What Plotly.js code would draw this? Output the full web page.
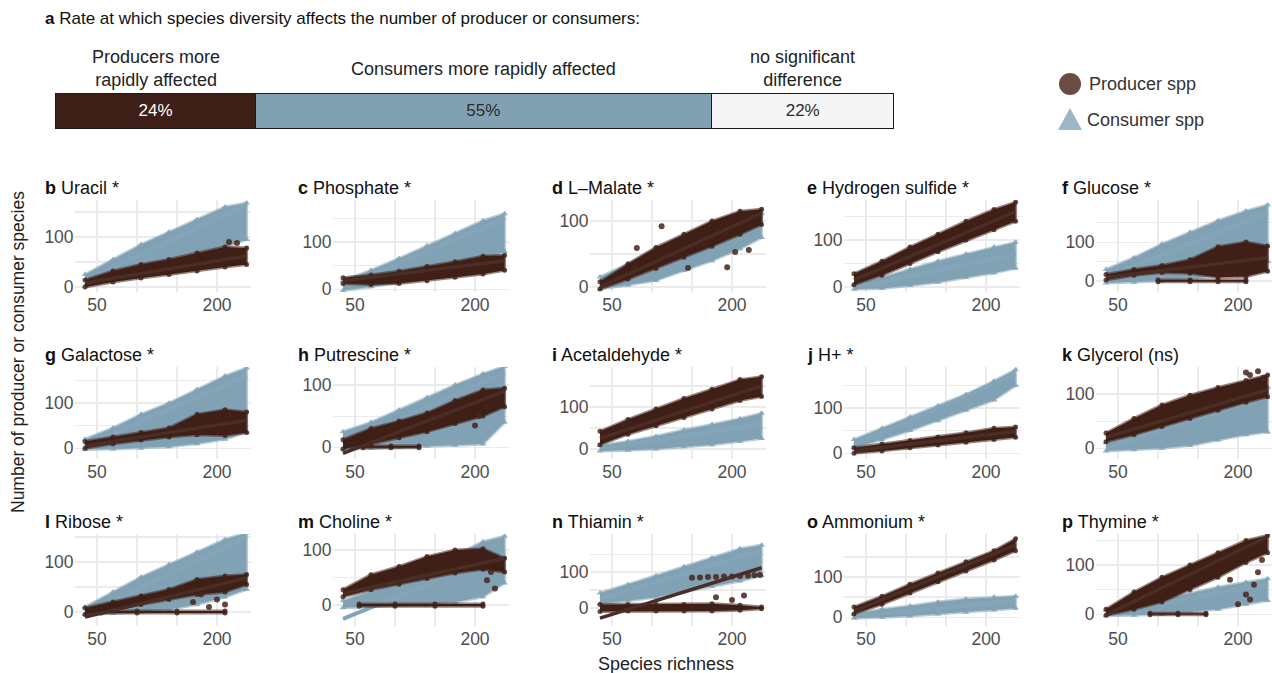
<!DOCTYPE html>
<html><head><meta charset="utf-8">
<script src="https://cdn.plot.ly/plotly-3.0.1.min.js"></script>
<style>html,body{margin:0;padding:0;background:#fff}#chart{width:1272px;height:673px}</style>
</head><body><div id="chart"></div>
<script>
// ---------------- DATA ----------------
const barCats = ['Producers more<br>rapidly affected', 'Consumers more rapidly affected', 'no significant<br>difference'];
const barPct = [24, 55, 22];

const panelLetter = ['b','c','d','e','f','g','h','i','j','k','l','m','n','o','p'];
const panelName = ['Uracil *','Phosphate *','L\u2013Malate *','Hydrogen sulfide *','Glucose *',
  'Galactose *','Putrescine *','Acetaldehyde *','H+ *','Glycerol (ns)',
  'Ribose *','Choline *','Thiamin *','Ammonium *','Thymine *'];

// species richness positions where the point clouds were read
const knotX = [35, 70, 105, 140, 175, 210, 237];

// consumer species cloud: lower / upper edge at knotX
const consLo = [
  [2, 15, 35, 55, 70, 80, 95], [-3, 5, 15, 30, 45, 60, 80], [-3, 3, 10, 25, 40, 58, 75],
  [-5, -3, 3, 10, 20, 30, 40], [-5, -3, 0, 5, 15, 30, 50],
  [-3, -2, 0, 3, 10, 20, 35], [-3, -2, 0, 2, 3, 5, 40], [-5, -3, 0, 5, 10, 18, 25],
  [12, 30, 50, 72, 95, 118, 150], [-5, -3, 0, 5, 15, 25, 30],
  [-5, -3, 0, 5, 15, 30, 45], [-5, -3, 0, 0, 5, 15, 40], [12, 20, 30, 45, 60, 75, 90],
  [-3, 0, 3, 8, 12, 18, 22], [-3, -2, 0, 5, 10, 20, 28]];
const consHi = [
  [25, 55, 85, 110, 135, 160, 168], [18, 40, 65, 92, 118, 145, 160], [15, 35, 58, 75, 92, 105, 112],
  [5, 20, 38, 55, 70, 85, 95], [30, 60, 95, 125, 155, 180, 195],
  [20, 45, 75, 100, 130, 160, 178], [25, 40, 60, 80, 100, 118, 130], [8, 18, 30, 45, 58, 72, 85],
  [30, 55, 80, 105, 130, 160, 185], [10, 30, 50, 70, 90, 105, 112],
  [10, 40, 70, 95, 120, 145, 158], [8, 25, 45, 65, 90, 115, 125], [42, 65, 90, 115, 140, 165, 175],
  [8, 20, 28, 38, 45, 50, 52], [8, 18, 30, 42, 55, 65, 72]];

// producer species cloud: lower / upper edge at knotX
const prodLo = [
  [0, 10, 18, 25, 32, 40, 45], [12, 10, 12, 18, 25, 32, 40], [-3, 12, 28, 45, 62, 80, 95],
  [5, 25, 50, 75, 100, 122, 140], [3, 15, 22, 20, 10, 12, 25],
  [0, 10, 18, 25, 30, 28, 35], [-3, 5, 15, 25, 38, 50, 65], [10, 35, 55, 75, 95, 115, 125],
  [0, 5, 12, 18, 24, 30, 35], [12, 25, 40, 55, 70, 85, 95],
  [-5, 5, 15, 25, 35, 40, 55], [15, 28, 38, 48, 58, 65, 60], [-10, -8, -8, -8, -8, -6, -2],
  [8, 32, 60, 88, 115, 142, 165], [-2, 10, 25, 50, 75, 105, 125]];
const prodHi = [
  [14, 32, 45, 55, 68, 80, 78], [24, 30, 38, 48, 58, 70, 72], [8, 35, 60, 80, 100, 115, 118],
  [28, 55, 85, 112, 140, 165, 180], [17, 30, 40, 55, 88, 100, 90],
  [15, 25, 35, 45, 75, 85, 80], [12, 30, 42, 55, 75, 92, 95], [42, 70, 95, 120, 142, 165, 172],
  [12, 20, 28, 36, 45, 55, 58], [28, 55, 80, 98, 112, 125, 135],
  [8, 20, 32, 45, 65, 72, 75], [28, 55, 70, 88, 100, 102, 85], [10, 10, 10, 10, 12, 8, 3],
  [25, 52, 82, 110, 138, 165, 195], [10, 45, 75, 100, 125, 150, 160]];

// secondary producer groups (rows of points at zero etc.): panel index, x, lower, upper
const prodExtraPanel = [4, 6, 10, 11, 14];
const prodExtraX  = [[100, 140, 175, 210], [60, 95, 130], [55, 100, 150, 210], [55, 100, 150, 210], [90, 125, 160]];
const prodExtraLo = [[-2, -2, -2, -2], [-1, -1, -1], [-2, -2, -2, -2], [-2, -2, -2, -2], [-1, -1, -1]];
const prodExtraHi = [[3, 3, 3, 3], [2, 2, 2], [2, 2, 2, 2], [2, 2, 2, 2], [2, 2, 2]];

// scattered producer points (incl. the sparse upper row in Thiamin)
const prodOutX = [[215, 225], [], [79, 145, 194, 204, 221, 112, 81], [], [], [], [200, 205, 215], [], [], [210, 215, 225, 232],
  [170, 180, 190, 200, 210], [215, 220, 225], [150, 160, 170, 180, 190, 200, 210, 220, 228, 235, 180, 200, 215],
  [], [200, 210, 220, 225, 230, 190, 215]];
const prodOutY = [[90, 88], [], [29, 29, 30, 53, 56, 92, 59], [], [], [], [35, 50, 65], [], [], [140, 135, 142, 130],
  [20, 35, 10, 25, 15], [45, 60, 30], [84, 85, 86, 86, 88, 88, 89, 90, 91, 92, 30, 22, 35],
  [], [20, 40, 60, 85, 110, 70, 30]];

// fitted lines: value at species richness 35 and 237
const lineX = [35, 237];
const prodLine = [[8, 62], [18, 60], [0, 112], [15, 160], [10, 60], [5, 62], [-10, 90], [25, 150], [5, 48], [20, 108],
  [-10, 68], [21, 85], [-28, 112], [15, 180], [-2, 158]];
const consLine = [[12, 165], [5, 150], [3, 100], [-2, 70], [10, 175], [5, 160], [5, 120], [0, 60], [18, 175], [0, 95],
  [-5, 150], [-25, 95], [25, 160], [2, 40], [0, 62]];

// y axis extents per panel (free scales)
const yRange = [[-10, 174], [-6, 189], [-7.6, 132], [-10.6, 185], [-28, 208], [-24, 180], [-19, 129], [-24, 195], [-13, 191], [-20, 150],
  [-28, 156], [-38, 129], [-50, 206], [-22, 207], [-24, 163]];

// ---------------- STYLE / LAYOUT ----------------
const W = 1272, H = 673;
const FONT = '"Liberation Sans", Arial, Helvetica, sans-serif';
const PROD = '#3f1f16', CONS = '#81a2b5';
const PROD_EDGE = 'rgba(63,31,22,0.55)', CONS_EDGE = 'rgba(129,162,181,0.55)';
const colX50 = [97, 355, 612, 866, 1118];
const KX = 0.8, XR = [22, 242];
const rowTop = [200, 367, 534], rowBot = [292, 459, 626];
const titleX = [43, 296, 550, 805, 1060];

const traces = [];
const layout = {
  width: W, height: H, margin: {l: 0, r: 0, t: 0, b: 0},
  paper_bgcolor: '#ffffff', plot_bgcolor: 'rgba(0,0,0,0)',
  showlegend: false, barmode: 'stack', font: {family: FONT, color: '#222'},
  annotations: [], shapes: []
};
const px = v => v / W, py = v => (H - v) / H;

function band(xs, lo, hi, color, edge, ax, ay, sym) {
  traces.push({type: 'scatter', mode: 'lines', x: xs.concat(xs.slice().reverse()),
    y: hi.concat(lo.slice().reverse()), fill: 'toself', fillcolor: color,
    line: {color: edge, width: 3},
    xaxis: ax, yaxis: ay, hoverinfo: 'skip'});
  traces.push({type: 'scatter', mode: 'markers', x: xs.concat(xs), y: hi.concat(lo),
    marker: {symbol: sym, size: sym === 'circle' ? 5 : 6, color: color, opacity: 0.8},
    xaxis: ax, yaxis: ay, hoverinfo: 'skip'});
}

panelLetter.forEach((L, i) => {
  const col = i % 5, row = Math.floor(i / 5), n = i + 1;
  const sfx = n === 1 ? '' : String(n);
  const ax = 'x' + sfx, ay = 'y' + sfx;
  const left = colX50[col] - (50 - XR[0]) * KX;
  const rightRaw = colX50[col] + (XR[1] - 50) * KX;
  const right = Math.min(W, rightRaw);
  const xmax = 50 + (right - colX50[col]) / KX;
  layout['xaxis' + sfx] = {domain: [px(left), px(right)], range: [XR[0], xmax], anchor: ay,
    tickvals: [50, 200], ticktext: ['50', '200'], ticks: '', showline: false, zeroline: false,
    showgrid: true, gridcolor: '#ebebeb', gridwidth: 1.2,
    minor: {tickvals: [100, 150], showgrid: true, gridcolor: '#ebebeb', gridwidth: 1.2},
    tickfont: {size: 17.5, color: '#4d4d4d', family: FONT}, fixedrange: true};
  layout['yaxis' + sfx] = {domain: [py(rowBot[row]), py(rowTop[row])], range: yRange[i], anchor: ax,
    tickvals: [0, 100], ticktext: ['0', '100'], ticks: '', showline: false, zeroline: false,
    showgrid: true, gridcolor: '#ebebeb', gridwidth: 1.2,
    minor: {tickvals: [50, 150], showgrid: true, gridcolor: '#ebebeb', gridwidth: 1.2},
    tickfont: {size: 17.5, color: '#4d4d4d', family: FONT}, fixedrange: true};

  band(knotX, consLo[i], consHi[i], CONS, CONS_EDGE, ax, ay, 'triangle-up');
  traces.push({type: 'scatter', mode: 'lines', x: lineX, y: consLine[i], line: {color: '#84a4b7', width: 4},
    xaxis: ax, yaxis: ay, hoverinfo: 'skip'});
  band(knotX, prodLo[i], prodHi[i], PROD, PROD_EDGE, ax, ay, 'circle');
  prodExtraPanel.forEach((p, k) => {
    if (p === i) band(prodExtraX[k], prodExtraLo[k], prodExtraHi[k], PROD, PROD_EDGE, ax, ay, 'circle');
  });
  if (prodOutX[i].length) traces.push({type: 'scatter', mode: 'markers', x: prodOutX[i], y: prodOutY[i],
    marker: {size: 6, color: 'rgba(70,38,28,0.85)'}, xaxis: ax, yaxis: ay, hoverinfo: 'skip'});
  traces.push({type: 'scatter', mode: 'lines', x: lineX, y: prodLine[i], line: {color: '#4a2d25', width: 3.5},
    xaxis: ax, yaxis: ay, hoverinfo: 'skip'});

  layout.annotations.push({xref: 'paper', yref: 'paper', x: px(titleX[col]), y: py(rowTop[row] - 12),
    xanchor: 'left', yanchor: 'middle', showarrow: false,
    text: '<b>' + L + '</b> ' + panelName[i], font: {size: 18, color: '#111', family: FONT}});
});

// ---- top stacked bar (panel a) ----
const barFill = ['#3d1f17', '#81a1b3', '#f5f5f5'];
const barText = ['#ffffff', '#2b2b2b', '#2b2b2b'];
const total = barPct.reduce((a, b) => a + b, 0);
let cum = 0;
barPct.forEach((v, k) => {
  traces.push({type: 'bar', orientation: 'h', x: [v], y: [0], width: 1,
    marker: {color: barFill[k], line: {color: '#1a1a1a', width: 1}},
    text: [v + '%'], textposition: 'inside', insidetextanchor: 'middle',
    textfont: {size: 17, color: barText[k], family: FONT}, constraintext: 'none',
    xaxis: 'x16', yaxis: 'y16', hoverinfo: 'skip'});
  layout.annotations.push({xref: 'x16', yref: 'paper', x: cum + v / 2, y: py(69),
    xanchor: 'center', yanchor: 'middle', showarrow: false, text: barCats[k],
    font: {size: 18, color: '#222', family: FONT}});
  cum += v;
});
// small padding so the bar outline is not clipped
const padU = 0.15, barL = 56, barR = 894, kb = (barR - barL) / total;
layout.xaxis16 = {domain: [px(barL - padU * kb), px(barR + padU * kb)], range: [-padU, total + padU], visible: false, fixedrange: true, anchor: 'y16'};
layout.yaxis16 = {domain: [py(129), py(92)], range: [-0.5 - 1 / 35, 0.5 + 1 / 35], visible: false, fixedrange: true, anchor: 'x16'};

layout.annotations.push({xref: 'paper', yref: 'paper', x: px(43), y: py(18), xanchor: 'left', yanchor: 'middle',
  showarrow: false, text: '<b>a</b> Rate at which species diversity affects the number of producer or consumers:',
  font: {size: 17, color: '#111', family: FONT}});

// ---- legend ----
layout.shapes.push({type: 'circle', xref: 'paper', yref: 'paper', x0: px(1059), x1: px(1081), y0: py(95), y1: py(73),
  fillcolor: '#6b4c44', line: {width: 0}});
layout.shapes.push({type: 'path', xref: 'paper', yref: 'paper',
  path: 'M ' + px(1070) + ' ' + py(108) + ' L ' + px(1082) + ' ' + py(130) + ' L ' + px(1058) + ' ' + py(130) + ' Z',
  fillcolor: '#9db6c4', line: {width: 0}});
layout.annotations.push({xref: 'paper', yref: 'paper', x: px(1087), y: py(84), xanchor: 'left', yanchor: 'middle',
  showarrow: false, text: 'Producer spp', font: {size: 18, color: '#333', family: FONT}});
layout.annotations.push({xref: 'paper', yref: 'paper', x: px(1085), y: py(120), xanchor: 'left', yanchor: 'middle',
  showarrow: false, text: 'Consumer spp', font: {size: 18, color: '#333', family: FONT}});

// ---- axis titles ----
layout.annotations.push({xref: 'paper', yref: 'paper', x: px(18), y: py(352), xanchor: 'center', yanchor: 'middle',
  textangle: -90, showarrow: false, text: 'Number of producer or consumer species', font: {size: 17.5, color: '#222', family: FONT}});
layout.annotations.push({xref: 'paper', yref: 'paper', x: px(666), y: py(664), xanchor: 'center', yanchor: 'middle',
  showarrow: false, text: 'Species richness', font: {size: 18, color: '#222', family: FONT}});

Plotly.newPlot('chart', traces, layout, {displayModeBar: false, staticPlot: true});
</script></body></html>
